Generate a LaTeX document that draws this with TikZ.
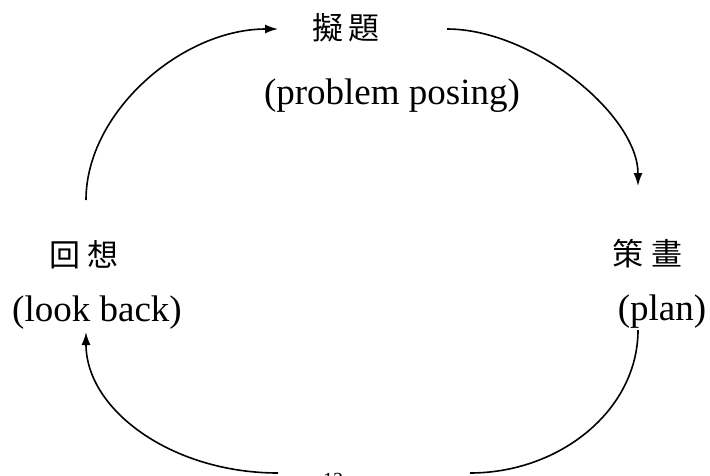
\documentclass[tikz,border=0pt]{standalone}
\usepackage{fontspec}
\setmainfont{Liberation Serif}
\newfontfamily\cjk{Noto Sans CJK TC}
\usetikzlibrary{arrows.meta}

\begin{document}
\begin{tikzpicture}[x=1pt, y=-1pt, line width=1.6pt,
    flow/.style={-{Latex[length=13pt,width=9pt]}},
    zh/.style={font=\cjk\fontsize{31}{31}\selectfont, inner sep=0pt},
    en/.style={font=\fontsize{37}{37}\selectfont, inner sep=0pt}]
    \useasboundingbox (0,0) rectangle (710,475);
    \clip (0,0) rectangle (710,475);

    \node[zh] (niti) at (346,28) {擬\hspace{6pt}題};
    \node[en] (posing) at (392,96) {(problem posing)};
    \node[zh] (huixiang) at (84,255) {回\hspace{8pt}想};
    \node[en] (lookback) at (97,313) {(look back)};
    \node[zh] (cehua) at (647,254) {策\hspace{8pt}畫};
    \node[en] (plan) at (662,312) {(plan)};
    \node[font=\fontsize{20}{20}\selectfont, anchor=north, inner sep=0pt] (page) at (333,472) {13};

    \coordinate (ls) at (86,200);
    \coordinate (te) at (278,29);
    \coordinate (ts) at (447,29);
    \coordinate (rs) at (638,186);
    \coordinate (rb) at (638,330);
    \coordinate (be) at (470,473);
    \coordinate (bs) at (278,473);
    \coordinate (lb) at (86,332);

    \draw[flow] (ls) .. controls (86,112) and (182,29) .. (te);
    \draw[flow] (ts) .. controls (533,29) and (638,115) .. (rs);
    \draw (rb) .. controls (638,410) and (560,473) .. (be);
    \draw[flow] (bs) .. controls (172,473) and (86,410) .. (lb);
\end{tikzpicture}
\end{document}
